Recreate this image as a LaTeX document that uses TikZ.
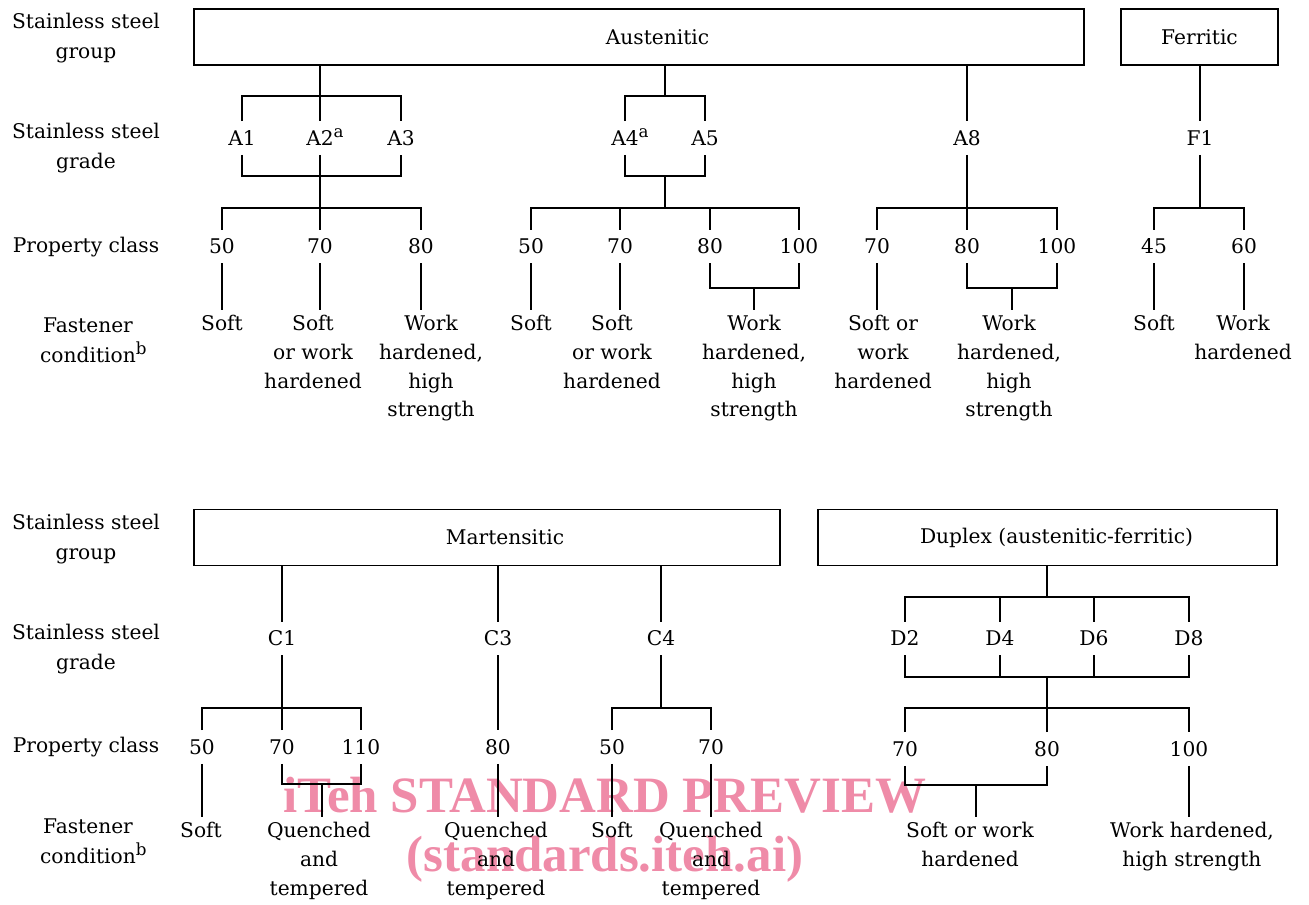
\documentclass[tikz,border=0pt]{standalone}
\usepackage{fontspec}
\setmainfont{DejaVu Serif}
\newfontfamily\wmfont{Liberation Serif}
\definecolor{WmPink}{HTML}{EF8BA8}
\newcommand{\supmark}[1]{\rlap{\raisebox{0.40em}{\fontsize{9.5}{9.5}\selectfont #1}}}
\tikzset{
    % Group box (steel group)
    grpbox/.style={
        draw=black,
        line width=1.1pt,
        minimum height=1.12cm,
        inner sep=0pt
    },
    % Grade and property class labels
    gradenode/.style={
        text height=8.4pt,
        text depth=0pt,
        inner xsep=1pt,
        inner ysep=5.2pt
    },
    % Fastener condition text
    condnode/.style={
        anchor=north,
        align=center,
        inner xsep=0pt,
        inner ysep=3pt
    },
    % Row titles on the left
    rownode/.style={
        align=center,
        font=\fontsize{11.5}{17}\selectfont
    },
    % Connector lines
    link/.style={
        line width=0.6pt,
        draw=black
    },
    % Watermark
    wmnode/.style={
        anchor=north,
        align=center,
        inner sep=0pt,
        text=WmPink,
        font=\wmfont\bfseries\fontsize{29}{33.6}\selectfont
    }
}

\begin{document}
\begin{tikzpicture}[x=0.02cm, y=-0.02cm, font=\fontsize{11.5}{16.3}\selectfont]
    \useasboundingbox (0,0) rectangle (1309,904);

    % Watermark
    \node[wmnode] (wm) at (605,777) {iTeh STANDARD PREVIEW\\(standards.iteh.ai)};

    % Row titles
    \node[rownode] (r1) at (86,38) {Stainless steel\\group};
    \node[rownode] (r2) at (86,148) {Stainless steel\\grade};
    \node[rownode] (r3) at (86,247) {Property class};
    \node[rownode] (r4) at (88,340) {Fastener\\condition\supmark{b}};
    \node[rownode] (r5) at (86,539) {Stainless steel\\group};
    \node[rownode] (r6) at (86,649) {Stainless steel\\grade};
    \node[rownode] (r7) at (86,747) {Property class};
    \node[rownode] (r8) at (88,841) {Fastener\\condition\supmark{b}};

    % Groups
    \node[grpbox,minimum width=17.8cm,label={[xshift=0.37cm]center:Austenitic}] (aus) at (639,37) {};
    \node[grpbox,minimum width=3.14cm,label={center:Ferritic}] (fer) at (1199.5,37) {};
    \node[grpbox,minimum width=11.72cm,label={[xshift=0.36cm]center:Martensitic}] (mar) at (487,537.5) {};
    \node[grpbox,minimum width=9.18cm,label={[xshift=0.18cm]center:Duplex (austenitic-ferritic)}] (dup) at (1047.5,537.5) {};

    % Grades (top)
    \node[gradenode] (a1) at (242,138) {A1};
    \node[gradenode] (a2) at (320,138) {A2\supmark{a}};
    \node[gradenode] (a3) at (401,138) {A3};
    \node[gradenode] (a4) at (625,138) {A4\supmark{a}};
    \node[gradenode] (a5) at (705,138) {A5};
    \node[gradenode] (a8) at (967,138) {A8};
    \node[gradenode] (f1) at (1200,138) {F1};

    % Property classes (top)
    \node[gradenode] (p50a) at (222,246.5) {50};
    \node[gradenode] (p70a) at (320,246.5) {70};
    \node[gradenode] (p80a) at (421,246.5) {80};
    \node[gradenode] (p50b) at (531,246.5) {50};
    \node[gradenode] (p70b) at (620,246.5) {70};
    \node[gradenode] (p80b) at (710,246.5) {80};
    \node[gradenode] (p100b) at (799,246.5) {100};
    \node[gradenode] (p70c) at (877,246.5) {70};
    \node[gradenode] (p80c) at (967,246.5) {80};
    \node[gradenode] (p100c) at (1057,246.5) {100};
    \node[gradenode] (p45) at (1154,246.5) {45};
    \node[gradenode] (p60) at (1244,246.5) {60};

    % Fastener conditions (top)
    \node[condnode] (c50a) at (222,310) {Soft};
    \node[condnode] (c70a) at (313,310) {Soft\\or work\\hardened};
    \node[condnode] (c80a) at (431,310) {Work\\hardened,\\high\\strength};
    \node[condnode] (c50b) at (531,310) {Soft};
    \node[condnode] (c70b) at (612,310) {Soft\\or work\\hardened};
    \node[condnode] (c80b) at (754,310) {Work\\hardened,\\high\\strength};
    \node[condnode] (c70c) at (883,310) {Soft or\\work\\hardened};
    \node[condnode] (c80c) at (1009,310) {Work\\hardened,\\high\\strength};
    \node[condnode] (c45) at (1154,310) {Soft};
    \node[condnode] (c60) at (1243,310) {Work\\hardened};

    % Grades (bottom)
    \node[gradenode] (c1) at (282,638.5) {C1};
    \node[gradenode] (c3) at (498,638.5) {C3};
    \node[gradenode] (c4) at (661,638.5) {C4};
    \node[gradenode] (d2) at (905,638.5) {D2};
    \node[gradenode] (d4) at (1000,638.5) {D4};
    \node[gradenode] (d6) at (1094,638.5) {D6};
    \node[gradenode] (d8) at (1189,638.5) {D8};

    % Property classes (bottom)
    \node[gradenode] (p50d) at (202,747) {50};
    \node[gradenode] (p70d) at (282,747) {70};
    \node[gradenode] (p110d) at (361,747) {110};
    \node[gradenode] (p80e) at (498,747) {80};
    \node[gradenode] (p50f) at (612,747) {50};
    \node[gradenode] (p70f) at (711,747) {70};
    \node[gradenode] (p70g) at (905,749) {70};
    \node[gradenode] (p80g) at (1047,749) {80};
    \node[gradenode] (p100g) at (1189,749) {100};

    % Fastener conditions (bottom)
    \node[condnode] (c50d) at (201,817) {Soft};
    \node[condnode] (c70d) at (319,817) {Quenched\\and\\tempered};
    \node[condnode] (c80e) at (496,817) {Quenched\\and\\tempered};
    \node[condnode] (c50f) at (612,817) {Soft};
    \node[condnode] (c70f) at (711,817) {Quenched\\and\\tempered};
    \node[condnode] (c70g) at (970,817) {Soft or work\\hardened};
    \node[condnode] (c100g) at (1192,817) {Work hardened,\\high strength};

    % Junctions
    \coordinate (ja) at (320,96);
    \coordinate (jb) at (320,176);
    \coordinate (jc) at (320,208);
    \coordinate (je) at (665,96);
    \coordinate (jf) at (665,176);
    \coordinate (jg) at (665,208);
    \coordinate (jd) at (754,288);
    \coordinate (jh) at (967,208);
    \coordinate (ji) at (1012,288);
    \coordinate (jk) at (1200,208);
    \coordinate (jl) at (282,708);
    \coordinate (jm) at (322,784);
    \coordinate (jn) at (661,708);
    \coordinate (jo) at (1047,597);
    \coordinate (jp) at (1047,677);
    \coordinate (jq) at (1047,708);
    \coordinate (jr) at (976,785);

    % Austenitic A1-A3
    \draw[link] (aus.south -| a2) -- (a2);
    \draw[link] (a1) |- (ja) -| (a3);
    \draw[link] (a1) |- (jb) -| (a3);
    \draw[link] (a2) -- (jb) -- (jc);
    \draw[link] (p50a) |- (jc) -| (p80a);
    \draw[link] (p70a) -- (jc);
    \draw[link] (p50a) -- (p50a |- c50a.north);
    \draw[link] (p70a) -- (p70a |- c70a.north);
    \draw[link] (p80a) -- (p80a |- c80a.north);

    % Austenitic A4-A5
    \draw[link] (aus.south -| je) -- (je);
    \draw[link] (a4) |- (je) -| (a5);
    \draw[link] (a4) |- (jf) -| (a5);
    \draw[link] (jf) -- (jg);
    \draw[link] (p50b) |- (jg) -| (p100b);
    \draw[link] (p70b) -- (p70b |- jg);
    \draw[link] (p80b) -- (p80b |- jg);
    \draw[link] (p50b) -- (p50b |- c50b.north);
    \draw[link] (p70b) -- (p70b |- c70b.north);
    \draw[link] (p80b) |- (jd) -| (p100b);
    \draw[link] (jd) -- (jd |- c80b.north);

    % Austenitic A8
    \draw[link] (aus.south -| a8) -- (a8);
    \draw[link] (a8) -- (jh);
    \draw[link] (p70c) |- (jh) -| (p100c);
    \draw[link] (p80c) -- (jh);
    \draw[link] (p70c) -- (p70c |- c70c.north);
    \draw[link] (p80c) |- (ji) -| (p100c);
    \draw[link] (ji) -- (ji |- c80c.north);

    % Ferritic F1
    \draw[link] (fer.south -| f1) -- (f1);
    \draw[link] (f1) -- (jk);
    \draw[link] (p45) |- (jk) -| (p60);
    \draw[link] (p45) -- (p45 |- c45.north);
    \draw[link] (p60) -- (p60 |- c60.north);

    % Martensitic C1
    \draw[link] (mar.south -| c1) -- (c1);
    \draw[link] (c1) -- (jl);
    \draw[link] (p50d) |- (jl) -| (p110d);
    \draw[link] (p70d) -- (jl);
    \draw[link] (p50d) -- (p50d |- c50d.north);
    \draw[link] (p70d) |- (jm) -| (p110d);
    \draw[link] (jm) -- (jm |- c70d.north);

    % Martensitic C3
    \draw[link] (mar.south -| c3) -- (c3);
    \draw[link] (c3) -- (p80e);
    \draw[link] (p80e) -- (p80e |- c80e.north);

    % Martensitic C4
    \draw[link] (mar.south -| c4) -- (c4);
    \draw[link] (c4) -- (jn);
    \draw[link] (p50f) |- (jn) -| (p70f);
    \draw[link] (p50f) -- (p50f |- c50f.north);
    \draw[link] (p70f) -- (p70f |- c70f.north);

    % Duplex D2-D8
    \draw[link] (dup.south -| jo) -- (jo);
    \draw[link] (d2) |- (jo) -| (d8);
    \draw[link] (d4) -- (d4 |- jo);
    \draw[link] (d6) -- (d6 |- jo);
    \draw[link] (d2) |- (jp) -| (d8);
    \draw[link] (d4) -- (d4 |- jp);
    \draw[link] (d6) -- (d6 |- jp);
    \draw[link] (jp) -- (jq);
    \draw[link] (p70g) |- (jq) -| (p100g);
    \draw[link] (p80g) -- (jq);
    \draw[link] (p70g) |- (jr) -| (p80g);
    \draw[link] (jr) -- (jr |- c70g.north);
    \draw[link] (p100g) -- (p100g |- c100g.north);
\end{tikzpicture}
\end{document}
